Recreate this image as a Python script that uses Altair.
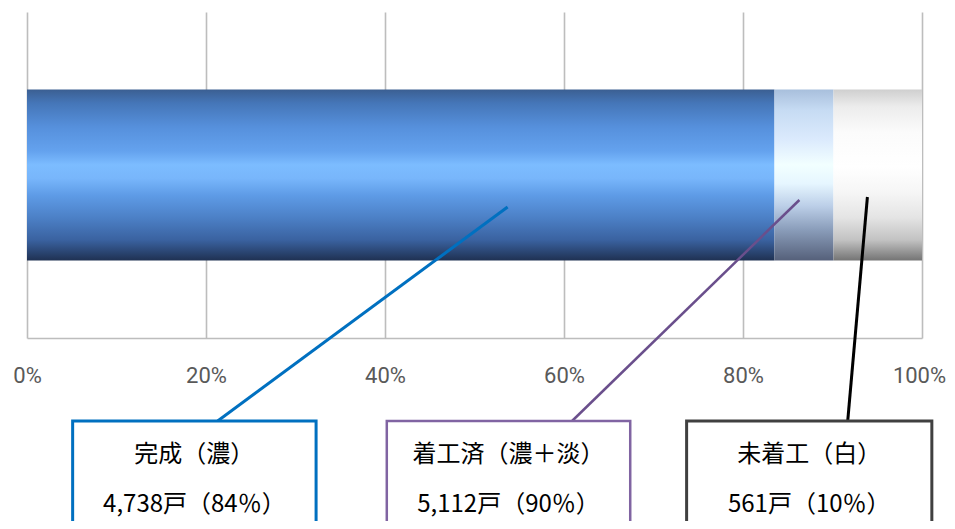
import altair as alt
import pandas as pd

# ---- data ----
segments = ["完成", "着工済（淡）", "未着工"]
counts = [4738, 374, 561]  # completed, started-not-completed, not started
box_line1 = ["完成（濃）", "着工済（濃＋淡）", "未着工（白）"]
box_line2 = ["4,738戸（84％）", "5,112戸（90％）", "561戸（10％）"]
tick_values = [0, 0.2, 0.4, 0.6, 0.8, 1.0]

# ---- derived stack positions ----
total = sum(counts)
starts, ends, acc = [], [], 0
for c in counts:
    starts.append(acc / total)
    acc += c
    ends.append(acc / total)
bar_df = pd.DataFrame({"seg": segments, "start": starts, "end": ends, "row": ["all"] * 3})

# ---- annotation geometry (plot-relative: x in fraction, y in px from plot top) ----
PH = 326
leader_x = [0.537, 0.863, 0.939]
leader_y = [195, 188, 185]
leader_x2 = [0.213, 0.609, 0.917]
leader_y2 = [409, 409, 409]
box_x = [0.051, 0.402, 0.737]
box_x2 = [0.323, 0.674, 1.011]
box_top = 409
box_bottom = 540
text_x = [0.187, 0.538, 0.874]
text_y1, text_y2 = 443, 493

colors = ["#0070C0", "#6A4F8C", "#000000"]
box_colors = ["#0070C0", "#8064A2", "#404040"]
box_widths = [3, 2.5, 3]
line_widths = [3, 2.5, 3]


def grad(stops):
    return alt.Gradient(
        gradient="linear", x1=0, x2=0, y1=0, y2=1,
        stops=[alt.GradientStop(offset=o, color=c) for o, c in stops],
    )


fills = [
    grad([(0, "#3b5f92"), (0.08, "#4576b8"), (0.22, "#5690dc"), (0.36, "#64a2ee"),
          (0.44, "#7cbcff"), (0.52, "#78b6fb"), (0.62, "#5e9be6"), (0.75, "#4c80c6"),
          (0.88, "#3a62a0"), (1.0, "#1f3152")]),
    grad([(0, "#a8bfdc"), (0.12, "#c6dbf3"), (0.3, "#dcebfd"), (0.44, "#f2ffff"),
          (0.55, "#e6f6ff"), (0.68, "#bccfe8"), (0.82, "#8a9dba"), (1.0, "#55607a")]),
    grad([(0, "#cfcfcf"), (0.1, "#ececec"), (0.25, "#fbfbfb"), (0.45, "#ffffff"),
          (0.6, "#f6f6f6"), (0.75, "#e4e4e4"), (0.88, "#c2c2c2"), (1.0, "#747474")]),
]

x_scale = alt.Scale(domain=[0, 1], nice=False, zero=False)
x_axis = alt.Axis(
    values=tick_values, format=".0%", grid=True, ticks=False, title=None,
    labelFlush=False, labelPadding=27, labelBound=False,
    labelOffset={"expr": "datum.value >= 1 ? -3 : 0"},
)
y_ann = alt.Y("y:Q", scale=alt.Scale(domain=[0, PH], reverse=True, nice=False, zero=False), axis=None)
y_ann2 = alt.Y2("y2:Q")

layers = []
for i, seg in enumerate(segments):
    layers.append(
        alt.Chart(bar_df[bar_df.seg == seg]).mark_bar(fill=fills[i], clip=False).encode(
            x=alt.X("start:Q", scale=x_scale, axis=x_axis),
            x2="end:Q",
            y=alt.Y("row:N", axis=None, scale=alt.Scale(paddingInner=0, paddingOuter=0.453)),
        )
    )

ann_layers = []
for i in range(3):
    ldf = pd.DataFrame({"x": [leader_x[i]], "y": [leader_y[i]], "x2": [leader_x2[i]], "y2": [leader_y2[i]]})
    ann_layers.append(
        alt.Chart(ldf).mark_rule(color=colors[i], strokeWidth=line_widths[i], clip=False).encode(
            x=alt.X("x:Q", scale=x_scale, axis=x_axis), x2="x2:Q", y=y_ann, y2=y_ann2
        )
    )
for i in range(3):
    bdf = pd.DataFrame({"x": [box_x[i]], "x2": [box_x2[i]], "y": [box_top], "y2": [box_bottom]})
    ann_layers.append(
        alt.Chart(bdf).mark_rect(fill="white", stroke=box_colors[i], strokeWidth=box_widths[i], clip=False).encode(
            x=alt.X("x:Q", scale=x_scale, axis=x_axis), x2="x2:Q", y=y_ann, y2=y_ann2
        )
    )
tdf = pd.DataFrame({
    "x": text_x * 2,
    "y": [text_y1] * 3 + [text_y2] * 3,
    "label": box_line1 + box_line2,
})
ann_layers.append(
    alt.Chart(tdf).mark_text(
        font="Noto Sans CJK JP", fontSize=24, color="#000000", baseline="middle", align="center", clip=False
    ).encode(x=alt.X("x:Q", scale=x_scale, axis=x_axis), y=y_ann, text="label:N")
)

chart = (
    alt.layer(*layers, *ann_layers)
    .resolve_scale(y="independent")
    .properties(
        width=895, height=PH,
        autosize=alt.AutoSizeParams(type="none"),
        padding={"left": 19, "top": 4, "right": 25, "bottom": 183},
    )
    .configure_view(stroke=None)
    .configure_axis(
        gridColor="#bdbdbd", gridWidth=1.6, domainColor="#bdbdbd", domainWidth=1.6,
        labelFont="Roboto", labelFontSize=22, labelColor="#595959",
    )
)

chart.save("out.html", embed_options={"renderer": "svg", "actions": False})
